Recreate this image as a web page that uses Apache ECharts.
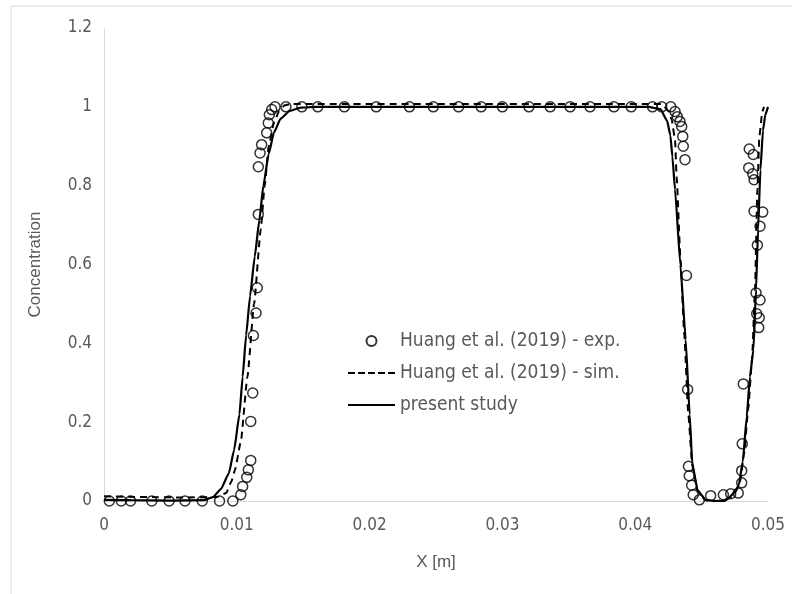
<!DOCTYPE html>
<html>
<head>
<meta charset="utf-8">
<script src="https://cdn.jsdelivr.net/npm/echarts@6/dist/echarts.min.js"></script>
<style>
  html, body { margin: 0; padding: 0; background: #fff; }
  #chart { width: 792px; height: 594px; }
</style>
</head>
<body>
<div id="chart"></div>
<script>
// x ticks / y ticks
const xTicks = [0, 0.01, 0.02, 0.03, 0.04, 0.05];
const yTicks = [0, 0.2, 0.4, 0.6, 0.8, 1, 1.2];

// Huang et al. (2019) - exp. (scatter)
const expData = [
  [0.0004, 0], [0.0013, 0], [0.002, 0], [0.0036, 0], [0.0049, 0], [0.0061, 0],
  [0.0074, 0], [0.0087, 0], [0.0097, 0],
  [0.0103, 0.016], [0.01044, 0.037], [0.01075, 0.06], [0.01087, 0.079],
  [0.01105, 0.103], [0.01105, 0.202], [0.0112, 0.274], [0.01125, 0.42],
  [0.01145, 0.477], [0.01154, 0.541], [0.01162, 0.727], [0.01162, 0.848],
  [0.01175, 0.883], [0.01187, 0.904], [0.01225, 0.934], [0.01237, 0.959],
  [0.01245, 0.98], [0.01263, 0.993], [0.01288, 1.0],
  [0.0137, 1], [0.0149, 1], [0.0161, 1], [0.0181, 1], [0.0205, 1], [0.023, 1],
  [0.0248, 1], [0.0267, 1], [0.0284, 1], [0.03, 1], [0.032, 1], [0.0336, 1],
  [0.0351, 1], [0.0366, 1], [0.0384, 1], [0.0397, 1], [0.0413, 1], [0.042, 1],
  [0.04268, 1], [0.043, 0.988], [0.04317, 0.975], [0.04337, 0.963],
  [0.0435, 0.95], [0.04358, 0.925], [0.04362, 0.9], [0.04375, 0.866],
  [0.04386, 0.572], [0.04395, 0.283], [0.04401, 0.088], [0.04407, 0.064],
  [0.04425, 0.04], [0.04437, 0.016], [0.04483, 0.003], [0.04568, 0.0135],
  [0.04664, 0.016], [0.04719, 0.0185], [0.04776, 0.02], [0.04802, 0.046],
  [0.04802, 0.077], [0.04806, 0.145], [0.04814, 0.297],
  [0.0493, 0.44], [0.04934, 0.465], [0.04915, 0.475], [0.0494, 0.51],
  [0.0491, 0.528], [0.0492, 0.649], [0.0494, 0.697], [0.0496, 0.733],
  [0.04895, 0.735], [0.04895, 0.815], [0.04885, 0.83], [0.04855, 0.845],
  [0.04889, 0.879], [0.04859, 0.893]
];

// Huang et al. (2019) - sim. (dashed)
const simData = [
  [0, 0.012], [0.003, 0.01], [0.006, 0.009], [0.0085, 0.01], [0.0092, 0.02],
  [0.0096, 0.05], [0.00987, 0.08], [0.0103, 0.15], [0.0108, 0.315],
  [0.0113, 0.5], [0.0118, 0.688], [0.0121, 0.8], [0.0124, 0.9], [0.0128, 0.96],
  [0.0132, 0.99], [0.0136, 1.004], [0.014, 1.007], [0.042, 1.007],
  [0.0425, 0.99], [0.04275, 0.967], [0.043, 0.916], [0.04312, 0.823],
  [0.0434, 0.62], [0.0437, 0.42], [0.044, 0.22], [0.0443, 0.09],
  [0.0447, 0.025], [0.0453, 0.002], [0.046, 0], [0.0468, 0.002],
  [0.0472, 0.01], [0.0476, 0.025], [0.0479, 0.05], [0.0482, 0.12],
  [0.0485, 0.23], [0.0488, 0.36], [0.04902, 0.536], [0.0492, 0.79],
  [0.04935, 0.925], [0.04957, 0.988], [0.0497, 1.0]
];

// present study (solid)
const presentData = [
  [0, 0.003], [0.002, 0.002], [0.005, 0.001], [0.0075, 0.002], [0.0082, 0.01],
  [0.0088, 0.03], [0.0094, 0.07], [0.0098, 0.13], [0.0102, 0.22],
  [0.01044, 0.315], [0.0107, 0.42], [0.011, 0.52], [0.01135, 0.62],
  [0.0117, 0.713], [0.012, 0.8], [0.0124, 0.88], [0.0128, 0.935],
  [0.0133, 0.97], [0.014, 0.99], [0.0148, 0.998], [0.016, 1.0], [0.041, 1.0],
  [0.0419, 0.994], [0.0424, 0.965], [0.04265, 0.927], [0.0428, 0.874],
  [0.043, 0.79], [0.0434, 0.6], [0.0438, 0.41], [0.0441, 0.22],
  [0.0443, 0.094], [0.0447, 0.027], [0.0453, 0.003], [0.046, 0], [0.0467, 0],
  [0.047, 0.007], [0.0475, 0.022], [0.0478, 0.04], [0.0481, 0.1],
  [0.0484, 0.214], [0.04864, 0.315], [0.0489, 0.383], [0.0491, 0.536],
  [0.04925, 0.688], [0.04943, 0.84], [0.04962, 0.94], [0.0498, 0.98],
  [0.05, 1.0]
];

const seriesNames = ['Huang et al. (2019) - exp.', 'Huang et al. (2019) - sim.', 'present study'];

const narrow = '"Liberation Sans Narrow", "DejaVu Sans Condensed", sans-serif';
const regular = '"Liberation Sans", sans-serif';
const gray = '#595959';
const axisGray = '#d9d9d9';

// legend icons drawn as filled bars so the line keys have no dot in the middle
const dashIcon = 'path://M0,0h7v2h-7z M10,0h7v2h-7z M20,0h7v2h-7z M30,0h7v2h-7z M40,0h7v2h-7z';
const solidIcon = 'path://M0,0h47v2h-47z';

const chart = echarts.init(document.getElementById('chart'));
chart.setOption({
  animation: false,
  backgroundColor: '#fff',
  grid: { left: 104, right: 24, top: 28, bottom: 93 },
  graphic: [
    { type: 'line', shape: { x1: 11, y1: 6, x2: 792, y2: 6 }, style: { stroke: axisGray, lineWidth: 1 } },
    { type: 'line', shape: { x1: 11, y1: 6, x2: 11, y2: 594 }, style: { stroke: axisGray, lineWidth: 1 } }
  ],
  legend: {
    orient: 'vertical',
    left: 348,
    top: 331,
    padding: 0,
    itemWidth: 47,
    itemHeight: 10,
    itemGap: 12,
    data: [
      { name: seriesNames[0] },
      { name: seriesNames[1], icon: dashIcon, itemStyle: { color: '#000', borderWidth: 0 } },
      { name: seriesNames[2], icon: solidIcon, itemStyle: { color: '#000', borderWidth: 0 } }
    ],
    textStyle: { color: gray, fontFamily: narrow, fontSize: 19, lineHeight: 20 }
  },
  xAxis: {
    type: 'value',
    min: xTicks[0],
    max: xTicks[xTicks.length - 1],
    interval: 0.01,
    name: 'X [m]',
    nameLocation: 'middle',
    nameGap: 53,
    nameTextStyle: { color: gray, fontFamily: regular, fontSize: 17 },
    axisLine: { show: true, lineStyle: { color: axisGray, width: 1 } },
    axisTick: { show: false },
    splitLine: { show: false },
    axisLabel: { color: gray, fontFamily: narrow, fontSize: 17, margin: 16 }
  },
  yAxis: {
    type: 'value',
    min: yTicks[0],
    max: yTicks[yTicks.length - 1],
    interval: 0.2,
    name: 'Concentration',
    nameLocation: 'middle',
    nameGap: 60,
    nameTextStyle: { color: gray, fontFamily: regular, fontSize: 17 },
    axisLine: { show: true, lineStyle: { color: axisGray, width: 1 } },
    axisTick: { show: false },
    splitLine: { show: false },
    axisLabel: { color: gray, fontFamily: narrow, fontSize: 17, margin: 12 }
  },
  series: [
    {
      name: seriesNames[0],
      type: 'scatter',
      data: expData,
      symbol: 'circle',
      symbolSize: 10,
      itemStyle: { color: 'rgba(255,255,255,0)', borderColor: '#000', borderWidth: 1.5 },
      z: 2
    },
    {
      name: seriesNames[1],
      type: 'line',
      data: simData,
      symbol: 'none',
      smooth: 0.15,
      smoothMonotone: 'x',
      lineStyle: { color: '#000', width: 2, type: [7, 5] },
      itemStyle: { color: '#000' },
      z: 3
    },
    {
      name: seriesNames[2],
      type: 'line',
      data: presentData,
      symbol: 'none',
      smooth: 0.15,
      smoothMonotone: 'x',
      lineStyle: { color: '#000', width: 2.2 },
      itemStyle: { color: '#000' },
      z: 4
    }
  ]
});
</script>
</body>
</html>
